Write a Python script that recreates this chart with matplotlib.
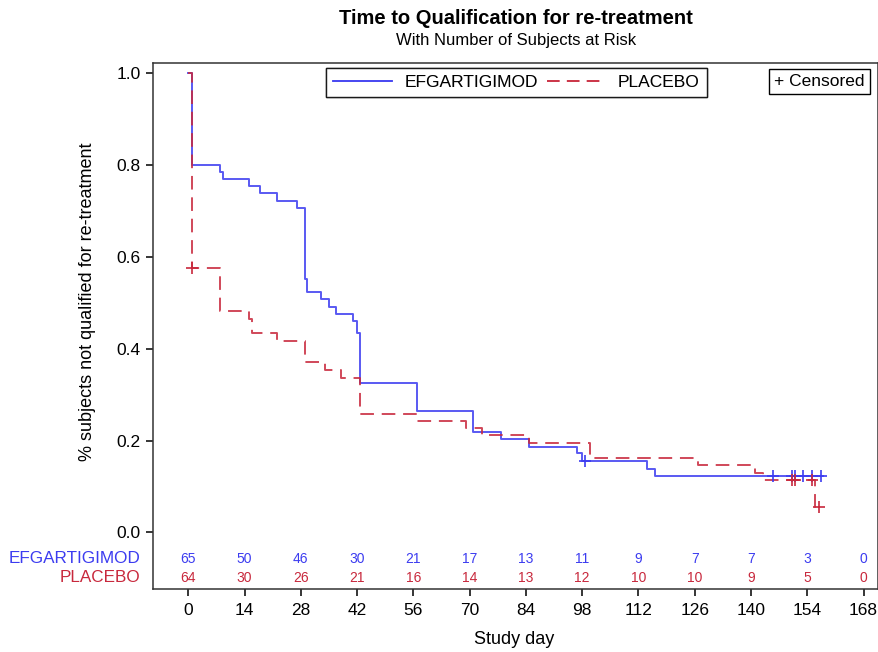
import numpy as np
import matplotlib
matplotlib.use("Agg")
import matplotlib.pyplot as plt
from matplotlib.lines import Line2D

# Kaplan-Meier steps (day, survival after the drop)
efg_times = [0, 0.9, 7.9, 8.7, 15.1, 17.8, 22.1, 27.0, 29.0, 29.6, 33.0, 35.1, 36.7,
             41.0, 42.1, 42.7, 56.8, 70.8, 77.8, 84.8, 96.8, 97.9, 114.1, 116.2, 158.0]
efg_surv = [1.0, 0.800, 0.785, 0.769, 0.754, 0.739, 0.723, 0.707, 0.553, 0.523, 0.508,
            0.492, 0.476, 0.460, 0.434, 0.325, 0.264, 0.218, 0.203, 0.187, 0.172,
            0.155, 0.137, 0.122, 0.122]
efg_cens_t = [98.7, 145.6, 150.2, 151.0, 152.9, 155.2, 157.4]
efg_cens_s = [0.155, 0.122, 0.122, 0.122, 0.122, 0.122, 0.122]

pla_times = [0, 0.9, 7.9, 15.1, 15.8, 22.1, 29.0, 34.0, 37.9, 42.7, 56.8, 69.0, 73.0,
             84.8, 100.0, 126.9, 141.0, 143.1, 156.0, 157.0]
pla_surv = [1.0, 0.577, 0.483, 0.464, 0.434, 0.417, 0.372, 0.354, 0.337, 0.257, 0.242,
            0.227, 0.212, 0.194, 0.161, 0.147, 0.129, 0.114, 0.056, 0.056]
pla_cens_t = [0.9, 150.2, 151.0, 155.2, 157.0]
pla_cens_s = [0.577, 0.114, 0.114, 0.114, 0.056]

risk_days = [0, 14, 28, 42, 56, 70, 84, 98, 112, 126, 140, 154, 168]
efg_risk = [65, 50, 46, 30, 21, 17, 13, 11, 9, 7, 7, 3, 0]
pla_risk = [64, 30, 26, 21, 16, 14, 13, 12, 10, 10, 9, 5, 0]

BLUE = "#3c3cf0"
RED = "#c8283c"

plt.rcParams["font.family"] = ["Liberation Sans", "DejaVu Sans"]

fig = plt.figure(figsize=(8.79, 6.52), dpi=100)
ax = fig.add_axes([153.3 / 879, 1 - 589 / 652, (878 - 153.3) / 879, (589 - 62.7) / 652])

ax.step(efg_times, efg_surv, where="post", color=BLUE, lw=1.4, alpha=0.85)
ax.step(pla_times, pla_surv, where="post", color=RED, lw=1.4, alpha=0.85,
        dashes=(7, 4))
ax.plot(efg_cens_t, efg_cens_s, ls="none", marker="+", ms=9, mew=1.2, color=BLUE)
ax.plot(pla_cens_t, pla_cens_s, ls="none", marker="+", ms=9, mew=1.2, color=RED)

ax.set_xlim(-8.7, 171.6)
ax.set_ylim(-0.1235, 1.0234)
ax.set_xticks(risk_days)
ax.set_yticks([0.0, 0.2, 0.4, 0.6, 0.8, 1.0])
ax.set_yticklabels(["0.0", "0.2", "0.4", "0.6", "0.8", "1.0"])
ax.tick_params(axis="both", direction="out", length=5, width=1.1, labelsize=12.5,
               pad=4, colors="black")
ax.tick_params(axis="x", pad=5)
for sp in ax.spines.values():
    sp.set_linewidth(1.1)
    sp.set_color("#333333")

# at-risk table inside the frame
for d, n in zip(risk_days, efg_risk):
    ax.text(d, -0.058, str(n), color=BLUE, fontsize=10, ha="center", va="center")
for d, n in zip(risk_days, pla_risk):
    ax.text(d, -0.0995, str(n), color=RED, fontsize=10, ha="center", va="center")
ytr = ax.get_yaxis_transform()
ax.text(-0.018, -0.058, "EFGARTIGIMOD", color=BLUE, fontsize=12.3, ha="right",
        va="center", transform=ytr, clip_on=False)
ax.text(-0.018, -0.0995, "PLACEBO", color=RED, fontsize=12.3, ha="right",
        va="center", transform=ytr, clip_on=False)

fig.text(88 / 879, 1 - 302 / 652, "% subjects not qualified for re-treatment",
         rotation=90, ha="center", va="center", fontsize=13)
fig.text(514 / 879, 1 - 640 / 652, "Study day", ha="center", va="center", fontsize=13)
fig.text(516 / 879, 1 - 18 / 652, "Time to Qualification for re-treatment",
         ha="center", va="center", fontsize=14.5, fontweight="bold")
fig.text(516 / 879, 1 - 41 / 652, "With Number of Subjects at Risk",
         ha="center", va="center", fontsize=12)

handles = [Line2D([], [], color=BLUE, lw=1.3),
           Line2D([], [], color=RED, lw=1.3, dashes=(7, 4))]
leg = ax.legend(handles, ["EFGARTIGIMOD", "PLACEBO"], ncol=2, loc="upper center",
                bbox_to_anchor=(((321 + 712) / 2 - 153.3) / 724.7, 1 - (68 - 62.7) / 526.3),
                frameon=True, fancybox=False, edgecolor="black", fontsize=12.5,
                handlelength=3.4, columnspacing=0.5, borderpad=0.4, handletextpad=0.7,
                borderaxespad=0)
leg.get_frame().set_linewidth(1.0)
ax.add_artist(leg)

ax.text((819.5 - 153.3) / 724.7, 1 - (81.5 - 62.7) / 526.3, "+ Censored",
        transform=ax.transAxes, ha="center", va="center", fontsize=12.5,
        bbox=dict(boxstyle="square,pad=0.3", facecolor="white", edgecolor="black",
                  linewidth=1.0))

fig.savefig("out.png", dpi=100)
